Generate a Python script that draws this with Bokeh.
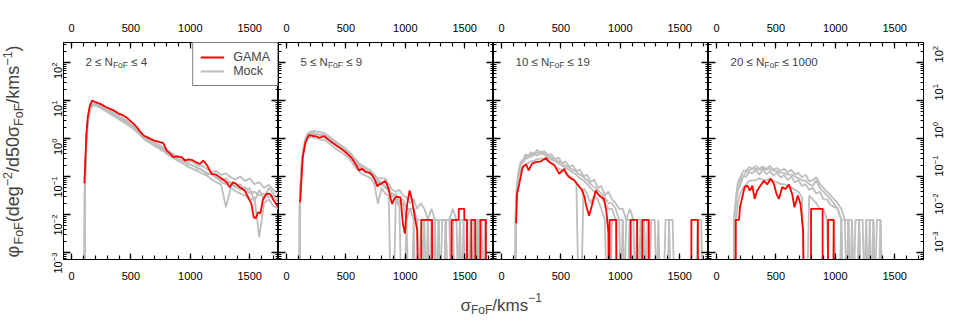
import math
from bokeh.plotting import figure
from bokeh.models import (Range1d, LinearAxis, LogAxis, SingleIntervalTicker, LogTicker,
                          Label, Legend, LegendItem, CustomJSTickFormatter)
from bokeh.layouts import row, column
from bokeh.embed import file_html
from bokeh.resources import INLINE

# ---------------- data (log10 phi; None = empty bin) ----------------
n_lo = [2, 5, 10, 20]
n_hi = [4, 9, 19, 1000]
x_tick_interval = 500

# Panel 1: 2 <= N <= 4
g1_sigma = [109, 126, 137, 153, 173, 200, 243, 290, 354, 400, 440, 466, 500, 522, 550, 578, 606, 640, 690, 730,
            773, 801, 830, 857, 890, 927, 955, 985, 1011, 1045, 1081, 1109, 1140, 1179, 1215, 1248, 1275, 1304,
            1332, 1360, 1388, 1416, 1458, 1486, 1514, 1533, 1550, 1570, 1590, 1612, 1640, 1665, 1682, 1696, 1730, 1760]
g1_logphi = [-1.18, 0.13, 0.56, 0.84, 1.0, 0.96, 0.91, 0.83, 0.74, 0.65, 0.6, 0.545, 0.45, 0.39, 0.3, 0.18, 0.08,
             0.03, -0.05, -0.08, -0.12, -0.32, -0.4, -0.49, -0.47, -0.49, -0.58, -0.55, -0.56, -0.62, -0.67, -0.58,
             -0.7, -0.93, -0.95, -1.02, -1.08, -1.15, -1.28, -1.15, -1.2, -1.28, -1.37, -1.54, -1.72, -2.07, -2.1,
             -1.94, -1.97, -1.59, -1.46, -1.45, -1.5, -1.6, -1.76, -1.9]
m1_sigma = [108, 112, 125, 140, 160, 180, 220, 260, 300, 340, 380, 420, 460, 500, 540, 580, 620, 660, 700, 740,
            780, 820, 860, 900, 940, 980, 1020, 1060, 1100, 1140, 1180, 1220, 1260, 1300, 1340, 1380, 1420, 1460,
            1500, 1540, 1580, 1620, 1660, 1700, 1740, 1780]
m1a = [None, -1.3, 0.0, 0.55, 0.85, 0.95, 0.9, 0.84, 0.78, 0.7, 0.63, 0.56, 0.48, 0.38, 0.29, 0.17, 0.04, -0.04,
       -0.1, -0.17, -0.25, -0.33, -0.42, -0.48, -0.53, -0.58, -0.62, -0.7, -0.72, -0.8, -0.88, -0.86, -0.96, -0.92,
       -1.02, -1.08, -1.0, -1.12, -1.05, -1.2, -1.15, -1.3, -1.22, -1.35, -1.45, -1.5]
m1b = [None, -1.5, -0.1, 0.45, 0.78, 0.88, 0.84, 0.77, 0.7, 0.62, 0.55, 0.46, 0.38, 0.3, 0.2, 0.08, -0.04, -0.12,
       -0.2, -0.27, -0.35, -0.44, -0.52, -0.6, -0.66, -0.74, -0.8, -0.86, -0.92, -0.98, -1.08, -1.15, -1.22, -1.81,
       -1.3, -1.38, -1.45, -1.5, -1.62, -1.55, -2.6, -1.7, -1.6, -1.78, -1.85, -1.9]
m1c = [None, -1.4, 0.05, 0.5, 0.82, 0.92, 0.88, 0.8, 0.74, 0.66, 0.6, 0.5, 0.44, 0.34, 0.24, 0.12, 0.0, -0.08,
       -0.15, -0.22, -0.3, -0.38, -0.47, -0.54, -0.6, -0.65, -0.72, -0.76, -0.84, -0.9, -0.95, -1.05, -1.1, -1.05,
       -1.2, -1.25, -1.35, -1.28, -1.45, -1.4, -1.5, -1.45, -1.55, -1.5, -1.7, -1.75]
m1d = [None, -1.25, 0.02, 0.52, 0.84, 0.94, 0.86, 0.82, 0.72, 0.68, 0.58, 0.52, 0.42, 0.36, 0.22, 0.14, 0.02, -0.1,
       -0.13, -0.24, -0.28, -0.4, -0.45, -0.56, -0.58, -0.68, -0.7, -0.8, -0.82, -0.95, -0.92, -1.0, -1.15, -1.2,
       -1.15, -1.3, -1.2, -1.4, -1.3, -1.65, -1.35, -1.6, -1.3, -1.45, -1.6, -1.65]

# Panel 2: 5 <= N <= 9
g2_sigma = [115, 137, 159, 187, 206, 230, 249, 276, 318, 340, 360, 390, 416, 450, 486, 528, 550, 570, 590, 611,
            639, 660, 681, 700, 723, 745, 765, 780, 793, 829, 845, 863, 877, 890, 905, 924, 960, 970, 980, 997,
            1008, 1016, 1036, 1058, 1080, 1100, 1114, 1130, 1136, 1225, 1226, 1388, 1389, 1449, 1450, 1496, 1497,
            1519, 1520, 1555, 1556, 1589, 1590, 1630, 1631, 1678, 1679, 1760]
g2_logphi = [-1.68, -0.49, -0.1, 0.08, 0.08, 0.06, 0.06, 0.02, 0.06, 0.0, -0.05, -0.12, -0.18, -0.25, -0.33, -0.45,
             -0.52, -0.62, -0.72, -0.84, -0.8, -0.87, -0.89, -0.9, -0.97, -1.1, -1.26, -1.2, -1.2, -1.12, -1.2,
             -1.37, -1.6, -1.72, -1.6, -1.53, -1.55, -1.9, -2.25, -2.5, -2.0, -1.72, -1.37, -1.64, -2.07, -2.42,
             None, None, -2.14, -2.14, None, None, -2.14, -2.14, -1.85, -1.85, -2.14, -2.14, None, None, -2.14,
             -2.14, None, None, -2.14, -2.14, None, None]
m2_sigma = [108, 112, 125, 140, 160, 180, 200, 230, 260, 290, 320, 350, 380, 410, 440, 470, 500, 530, 560, 590,
            620, 650, 680, 710, 740, 770, 800, 830, 860, 890, 920, 950, 980, 1010, 1040, 1070, 1100, 1130, 1160,
            1190, 1220, 1250, 1280, 1310, 1340, 1370, 1400, 1430, 1460, 1490, 1520, 1550, 1580, 1610, 1640, 1670, 1700]
m2a = [None, -1.6, -0.7, -0.3, 0.0, 0.14, 0.18, 0.2, 0.18, 0.16, 0.14, 0.08, 0.0, -0.07, -0.14, -0.2, -0.27, -0.36,
       -0.46, -0.58, -0.68, -0.73, -0.79, -0.85, -0.95, -1.05, -1.05, -1.05, -1.2, -1.35, -1.4, -1.35, -1.5, -1.55,
       -1.7, -1.6, -1.85, -1.7, -1.85, -2.14, -1.85, -2.14, -2.14, None, -2.14, -2.14, -1.85, -2.14, -2.14, -2.14,
       -2.14, None, -2.14, -2.14, -2.14, None, None]
m2b = [None, -1.8, -0.85, -0.45, -0.15, 0.0, 0.04, 0.02, 0.0, -0.02, -0.04, -0.1, -0.18, -0.26, -0.32, -0.38,
       -0.45, -0.55, -0.66, -0.8, -0.9, -0.95, -1.0, -1.05, -1.2, -1.72, -1.3, -1.45, -1.5, None, -1.6, -1.8, None,
       -2.14, None, -2.14, None, -2.14, None, -2.14, None, -2.14, -2.14, None, -2.14, None, -2.14, -2.14, None,
       -2.14, -2.14, -2.14, None, -2.14, None, -2.14, None]
m2c = [None, -1.7, -0.75, -0.38, -0.05, 0.08, 0.12, 0.1, 0.12, 0.08, 0.06, 0.0, -0.08, -0.15, -0.22, -0.3, -0.36,
       -0.45, -0.55, -0.68, -0.76, -0.82, -0.88, -0.95, -1.05, -1.15, -1.2, -1.25, -1.4, -1.45, -1.5, -1.65, -1.6,
       -1.85, -1.85, -2.14, -2.14, None, -2.14, -2.14, -2.14, None, -2.14, -2.14, -2.14, -2.14, None, None, -2.14,
       None, -2.14, -2.14, -2.14, None, -2.14, -2.14, None]
m2d = [None, -1.75, -0.8, -0.4, -0.08, 0.1, 0.14, 0.15, 0.1, 0.1, 0.09, 0.03, -0.05, -0.1, -0.18, -0.26, -0.32,
       -0.4, -0.5, -0.62, -0.72, -0.78, -0.84, -0.9, -1.0, -1.1, -1.15, -1.3, -1.3, -1.55, -1.45, -1.72, -1.7,
       -2.14, -1.85, -1.85, -2.14, -2.14, -2.14, None, -2.14, -2.14, None, -2.14, -2.14, None, -2.14, None, -2.14,
       -2.14, None, -2.14, None, -2.14, -2.14, -2.14, None]

# Panel 3: 10 <= N <= 19
g3_sigma = [123, 131, 150, 165, 179, 207, 229, 257, 290, 332, 374, 402, 444, 486, 528, 550, 570, 611, 648, 676,
            700, 709, 737, 765, 793, 821, 863, 882, 900, 905, 910, 966, 967, 1086, 1087, 1142, 1143, 1184, 1185,
            1240, 1241, 1597, 1598, 1653, 1654, 1760]
g3_logphi = [-2.23, -1.46, -1.19, -0.95, -0.75, -0.68, -0.84, -0.66, -0.62, -0.6, -0.51, -0.62, -0.7, -0.93, -0.8,
             -0.95, -1.02, -1.1, -1.24, -1.35, -1.55, -1.72, -2.03, -1.72, -1.37, -1.5, -1.59, -1.9, -2.5, None,
             -2.14, -2.14, None, None, -2.14, -2.14, None, None, -2.14, -2.14, None, None, -2.14, -2.14, None, None]
m3_sigma = [115, 120, 130, 145, 160, 180, 200, 225, 250, 275, 300, 330, 360, 390, 420, 450, 480, 510, 540, 570,
            600, 630, 660, 690, 720, 750, 780, 810, 840, 870, 900, 930, 960, 990, 1020, 1050, 1080, 1110, 1140,
            1170, 1200, 1230, 1260, 1290, 1320, 1350, 1380, 1410, 1440, 1470, 1500, 1530, 1560, 1590, 1620, 1650,
            1680, 1710]
m3a = [None, -1.9, -1.2, -0.85, -0.62, -0.58, -0.42, -0.45, -0.36, -0.4, -0.3, -0.36, -0.33, -0.43, -0.42, -0.55,
       -0.5, -0.65, -0.6, -0.75, -0.7, -0.86, -0.82, -1.0, -0.95, -1.15, -1.08, -1.3, -1.25, -1.5, -1.4, -1.6,
       -1.7, -1.85, -1.85, -2.14, -1.85, -2.14, -2.14, -2.14, -2.14, -2.14, None, None, -2.14, None, -2.14, -2.14,
       None, None, None, None, None, None, None, -2.14, -2.14, None]
m3b = [None, -2.14, -1.4, -1.0, -0.85, -0.75, -0.68, -0.65, -0.6, -0.58, -0.55, -0.52, -0.55, -0.6, -0.65, -0.72,
       -0.8, -0.85, -0.9, -0.98, -1.05, -1.15, None, -1.3, -1.45, -1.7, -1.5, -1.6, -1.85, -2.14, None, -2.14,
       -2.14, None, -2.14, None, -2.14, -2.14, None, -2.14, None, -2.14, None, None, None, None, None, None, None,
       None, None, None, None, None, None, None, None, None]
m3c = [None, -2.0, -1.3, -0.9, -0.72, -0.62, -0.55, -0.5, -0.48, -0.42, -0.45, -0.4, -0.42, -0.5, -0.55, -0.6,
       -0.65, -0.72, -0.78, -0.82, -0.9, -0.95, -1.05, -1.1, -1.2, -1.3, -1.4, -1.45, -1.55, -1.7, -1.85, -1.85,
       -2.14, -2.14, None, -2.14, -2.14, None, -2.14, -2.14, -2.14, None, None, None, None, None, None, -2.14,
       -2.14, None, None, None, None, None, None, None, None, None]
m3d = [None, -1.95, -1.25, -0.88, -0.7, -0.58, -0.5, -0.45, -0.42, -0.4, -0.38, -0.36, -0.38, -0.45, -0.5, -0.55,
       -0.6, -0.66, -0.72, -0.76, -0.82, -0.88, -0.95, -1.02, -1.1, -1.2, -1.28, -1.35, -1.45, -1.55, -1.7, -1.7,
       -1.85, -2.14, -2.14, None, -2.14, -2.14, -2.14, None, -2.14, None, -2.14, -2.14, None, None, None, None,
       None, None, None, None, None, None, None, None, None, None]

# Panel 4: 20 <= N <= 1000
g4_sigma = [150, 161, 162, 190, 198, 218, 237, 260, 282, 302, 321, 343, 371, 399, 427, 455, 483, 505, 525, 553,
            581, 609, 637, 656, 684, 707, 729, 741, 795, 796, 893, 894, 938, 939, 986, 987, 1050]
g4_logphi = [None, None, -2.14, -2.14, -1.81, -1.54, -1.28, -1.24, -1.37, -1.24, -1.59, -1.37, -1.24, -1.11, -1.21,
             -1.06, -1.19, -1.46, -1.59, -1.28, -1.33, -1.21, -1.46, -1.81, -1.5, -1.72, -2.42, None, None, -1.85,
             -1.85, None, None, -2.14, -2.14, None, None]
m4_sigma = [140, 150, 165, 180, 200, 225, 250, 275, 300, 330, 360, 390, 420, 450, 480, 510, 540, 570, 600, 630,
            660, 690, 720, 750, 780, 810, 840, 870, 900, 930, 960, 990, 1020, 1050, 1080, 1110, 1140, 1170, 1200,
            1230, 1260, 1290, 1320, 1350, 1380, 1410]
m4a = [None, -2.14, -1.5, -1.15, -1.02, -0.85, -0.85, -0.75, -0.8, -0.72, -0.8, -0.74, -0.8, -0.72, -0.82, -0.78,
       -0.85, -0.8, -0.9, -0.82, -0.95, -0.9, -1.02, -0.95, -1.12, -1.1, -1.02, -1.2, -1.3, -1.4, -1.5, -1.6,
       -1.7, -1.85, -2.14, -2.14, None, -2.14, -2.14, None, -2.14, -2.14, None, -2.14, -2.14, None]
m4b = [None, None, -2.14, -1.7, -1.45, -1.3, -1.2, -1.12, -1.1, -1.1, -1.05, -1.08, -1.1, -1.05, -1.12, -1.15,
       -1.2, -1.2, -1.25, -1.3, -1.35, -1.4, -1.55, None, -1.5, -1.6, -1.7, -1.85, -1.85, -2.14, None, -2.14, None,
       -2.14, None, -2.14, None, None, None, None, None, None, None, None, None, None]
m4c = [None, -2.0, -1.7, -1.35, -1.25, -1.0, -1.0, -0.88, -0.92, -0.83, -0.95, -0.82, -0.94, -0.86, -0.97, -0.9,
       -1.03, -0.96, -1.1, -1.0, -1.15, -1.1, -1.25, -1.2, -1.35, -1.3, -1.45, -1.4, -1.6, -1.6, -1.75, -1.8,
       -1.85, -2.14, -2.14, None, -2.14, None, -2.14, -2.14, None, -2.14, -2.14, None, None, None]
m4d = [None, -2.14, -1.6, -1.3, -1.1, -0.98, -0.88, -0.84, -0.8, -0.8, -0.82, -0.8, -0.82, -0.8, -0.85, -0.86,
       -0.9, -0.92, -0.95, -0.95, -1.0, -1.05, -1.1, -1.1, -1.2, -1.25, -1.1, -1.3, -1.4, -1.5, -1.6, -1.72, -1.85,
       -2.14, None, -2.14, -2.14, None, -2.14, None, -2.14, None, -2.14, None, -2.14, None]

# ---------------- styling / layout constants ----------------
FONT = "Liberation Sans"
XMIN, XMAX = -67, 1742
LOG_LO, LOG_HI = -3.184, 2.526
FW, FH = 215, 217
TOP_B, BOT_B = 42, 29
YT_W = 38
LEFT_B, RIGHT_B = 25, 31
RED = "#ff0000"
GREY = "#bebebe"
EMPTY_FLOOR = 1e-6   # empty bins are drawn below the axis floor

ARIAL = {' ': 278, '≤': 549, 'N': 722, 'F': 611, 'o': 556, '(': 333, ')': 333, 'd': 556, 'e': 556,
         'g': 556, '/': 278, 'k': 500, 'm': 833, 's': 500, 'σ': 617, 'φ': 722, '−': 584}


def text_w(s, size):
    return sum(ARIAL.get(c, 556) for c in s) * size / 1000.0


def to_phi(logs):
    return [10 ** v if v is not None else EMPTY_FLOOR for v in logs]


def style_x(ax, standoff):
    ax.axis_line_color = "black"
    ax.major_tick_in, ax.major_tick_out = 6, 0
    ax.minor_tick_in, ax.minor_tick_out = 4, 0
    ax.major_tick_line_width = 1.2
    ax.minor_tick_line_width = 1.2
    ax.major_label_text_font = FONT
    ax.major_label_text_font_size = "11px"
    ax.major_label_text_color = "black"
    ax.major_label_standoff = standoff


def style_y(ax, labels, standoff):
    ax.axis_line_color = "black"
    ax.major_tick_in, ax.major_tick_out = 7, 0
    ax.minor_tick_in, ax.minor_tick_out = 3, 0
    ax.major_tick_line_width = 1.3
    ax.minor_tick_line_width = 1.2
    ax.major_label_text_font = FONT
    ax.major_label_text_color = "black"
    if labels:
        ax.major_label_text_font_size = "11px"
        ax.major_label_standoff = standoff
        ax.major_label_orientation = math.pi / 2
    else:
        ax.formatter = CustomJSTickFormatter(code="return ''")
        ax.major_label_text_font_size = "1px"
        ax.major_label_standoff = 0


def blank_strip(w, h):
    f = figure(width=w, height=h, x_range=Range1d(0, w), y_range=Range1d(0, h),
               x_axis_location=None, y_axis_location=None, toolbar_location=None,
               output_backend="svg", min_border=0)
    f.grid.visible = False
    f.outline_line_color = None
    return f


gama = [(g1_sigma, g1_logphi), (g2_sigma, g2_logphi), (g3_sigma, g3_logphi), (g4_sigma, g4_logphi)]
mocks = [(m1_sigma, [m1a, m1b, m1c, m1d]), (m2_sigma, [m2a, m2b, m2c, m2d]),
         (m3_sigma, [m3a, m3b, m3c, m3d]), (m4_sigma, [m4a, m4b, m4c, m4d])]

H = TOP_B + FH + BOT_B
widths = [LEFT_B + FW, FW, FW, FW + RIGHT_B]
panels = []
for k in range(4):
    p = figure(width=widths[k], height=H, x_range=Range1d(XMIN, XMAX),
               y_range=Range1d(10 ** LOG_LO, 10 ** LOG_HI), y_axis_type="log",
               x_axis_location=None, y_axis_location=None, toolbar_location=None,
               output_backend="svg",
               min_border_left=LEFT_B if k == 0 else 0,
               min_border_right=RIGHT_B if k == 3 else 0,
               min_border_top=TOP_B, min_border_bottom=BOT_B)
    p.grid.visible = False
    p.outline_line_color = "black"
    p.outline_line_width = 1

    for loc, so in (("above", 11), ("below", 12)):
        ax = LinearAxis(ticker=SingleIntervalTicker(interval=x_tick_interval, num_minor_ticks=5))
        style_x(ax, so)
        p.add_layout(ax, loc)
    la = LogAxis(ticker=LogTicker(num_minor_ticks=10))
    style_y(la, k == 0, 7)
    p.add_layout(la, "left")
    ra = LogAxis(ticker=LogTicker(num_minor_ticks=10))
    style_y(ra, k == 3, 14)
    p.add_layout(ra, "right")

    msig, mlist = mocks[k]
    grey_r = None
    for m in mlist:
        r = p.line(msig, to_phi(m), line_color=GREY, line_width=1.8)
        grey_r = grey_r or r
    gs, gl = gama[k]
    red_r = p.line(gs, to_phi(gl), line_color=RED, line_width=1.8)

    # panel annotation  "lo <= N_FoF <= hi"
    main1 = f"{n_lo[k]} ≤ N"
    main2 = f"≤ {n_hi[k]}"
    x0 = 22
    p.add_layout(Label(x=XMIN, y=10 ** LOG_HI, x_offset=x0, y_offset=-19, text=main1,
                       text_font=FONT, text_font_size="11.5px", text_baseline="alphabetic"))
    x1 = x0 + text_w(main1, 11.5)
    p.add_layout(Label(x=XMIN, y=10 ** LOG_HI, x_offset=x1, y_offset=-22, text="FoF",
                       text_font=FONT, text_font_size="8.5px", text_baseline="alphabetic"))
    x2 = x1 + text_w("FoF", 8.5) + text_w(" ", 11.5)
    p.add_layout(Label(x=XMIN, y=10 ** LOG_HI, x_offset=x2, y_offset=-19, text=main2,
                       text_font=FONT, text_font_size="11.5px", text_baseline="alphabetic"))

    if k == 0:
        leg = Legend(items=[LegendItem(label="GAMA", renderers=[red_r]),
                            LegendItem(label="Mock", renderers=[grey_r])],
                     location="top_right", margin=0, border_line_color="black", border_line_width=1,
                     background_fill_color="white", background_fill_alpha=1.0,
                     label_text_font=FONT, label_text_font_size="12.5px",
                     glyph_width=24, glyph_height=14, label_height=14, label_standoff=9,
                     padding=7, spacing=0)
        p.add_layout(leg)
    panels.append(p)

# y-axis title strip: its frame is aligned with the panels' frames (y 42..259),
# offsets are pixels from the frame's bottom-left corner
yt = blank_strip(YT_W, H)
S_MAIN, S_SMALL = 18, 12.5
y_pieces = [("φ", 0), ("FoF", 1), ("(deg", 0), ("−2", -1), ("/d50σ", 0), ("FoF", 1),
            ("/kms", 0), ("−1", -1), (")", 0)]
yoff = 2.0
for txt, kind in y_pieces:
    size = S_MAIN if kind == 0 else S_SMALL
    base_x = 19 + (4 if kind == 1 else (-8 if kind == -1 else 0))
    xo = base_x - 0.35 * size
    yt.add_layout(Label(x=0, y=0, x_offset=xo, y_offset=yoff, text=txt, angle=math.pi / 2,
                        text_font=FONT, text_font_size=f"{size}px",
                        text_baseline="middle", text_align="left"))
    yoff += text_w(txt, size)

# x-axis title strip
TOTAL_W = YT_W + sum(widths)
XT_H = 27
xt = blank_strip(TOTAL_W, XT_H)
SX_MAIN, SX_SMALL = 17, 12
x_pieces = [("σ", 0), ("FoF", 1), ("/kms", 0), ("−1", -1)]
xpos = 460
for txt, kind in x_pieces:
    size = SX_MAIN if kind == 0 else SX_SMALL
    yb = 10 + (-4 if kind == 1 else (8 if kind == -1 else 0))
    xt.add_layout(Label(x=0, y=0, x_offset=xpos, y_offset=yb, text=txt, text_font=FONT,
                        text_font_size=f"{size}px", text_baseline="alphabetic", text_align="left"))
    xpos += text_w(txt, size)

layout = column(row(yt, *panels), xt)
open("out.html", "w").write(file_html(layout, INLINE))
